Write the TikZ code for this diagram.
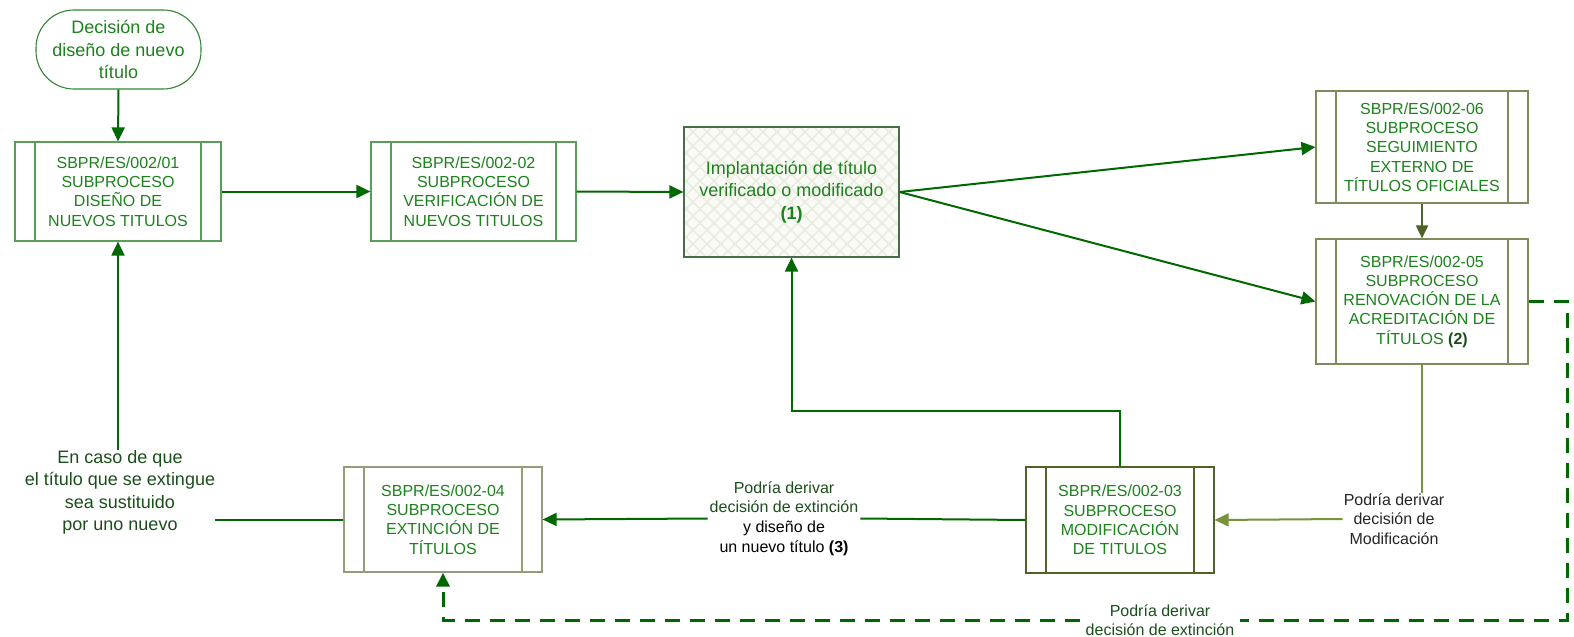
\documentclass[tikz,border=0pt]{standalone}
\usepackage{fontspec}
\setmainfont{Liberation Sans}
\usetikzlibrary{arrows.meta,calc}
\definecolor{arrgreen}{RGB}{0,104,0}
\definecolor{boxtext}{RGB}{28,130,28}
\definecolor{lblgreen}{RGB}{28,78,28}
\definecolor{olivedark}{RGB}{79,98,40}
\definecolor{olivelight}{RGB}{119,147,60}
\definecolor{bordergray}{RGB}{150,156,122}
\definecolor{borderolive}{RGB}{125,140,90}
\definecolor{bordergreen}{RGB}{88,158,88}
\definecolor{hatchfill}{RGB}{250,251,246}
\definecolor{hatchline}{RGB}{233,236,222}
\definecolor{hatchborder}{RGB}{70,110,70}
\newcommand{\boxfont}{\fontsize{16}{19.3}\selectfont}
\newcommand{\bigfont}{\fontsize{18}{22.4}\selectfont}
\newcommand{\lblfont}{\fontsize{16}{19.6}\selectfont}
\tikzset{
  subbox/.style={draw=#1, line width=1.2pt, rectangle, inner sep=0pt, align=center,
    text=boxtext, font=\boxfont,
    path picture={\draw[#1, line width=1.2pt]
      ([xshift=20pt]path picture bounding box.north west) -- ([xshift=20pt]path picture bounding box.south west)
      ([xshift=-20pt]path picture bounding box.north east) -- ([xshift=-20pt]path picture bounding box.south east);}},
  hatchbox/.style={draw=hatchborder, line width=1.2pt, fill=hatchfill, rectangle, inner sep=0pt,
    align=center, text=boxtext, font=\bigfont,
    path picture={\foreach \k in {0,...,30} {
      \draw[hatchline, line width=1.6pt] ([xshift=\k*14pt-150pt]path picture bounding box.north west) -- ++(150pt,-150pt);
      \draw[hatchline, line width=1.6pt] ([xshift=\k*14pt]path picture bounding box.north west) -- ++(-150pt,-150pt);}}},
  termbox/.style={draw=arrgreen!80, line width=1.1pt, rounded corners=38pt, inner sep=0pt,
    align=center, text=boxtext, font=\bigfont},
  lbl/.style={align=center, inner sep=0pt, fill=white},
  arr/.style={draw=arrgreen, line width=2pt, -{Triangle[length=14pt,width=13pt]}},
  plainline/.style={draw=arrgreen, line width=2pt},
  dashline/.style={draw=arrgreen, line width=3pt, dash pattern=on 15pt off 10pt},
}
\begin{document}
\begin{tikzpicture}[x=1pt,y=-1pt]
\useasboundingbox (0,0) rectangle (1574,637);
\fill[white] (0,0) rectangle (1574,637);

% nodes
\node[termbox, minimum width=165pt, minimum height=79pt] (term) at (118.5,49.5)
  {Decisión de\\diseño de nuevo\\título};
\node[subbox=bordergreen, minimum width=206pt, minimum height=99pt] (b1) at (118,191.5)
  {SBPR/ES/002/01\\SUBPROCESO\\DISEÑO DE\\NUEVOS TITULOS};
\node[subbox=bordergreen, minimum width=205pt, minimum height=99pt] (b2) at (473.5,191.5)
  {SBPR/ES/002-02\\SUBPROCESO\\VERIFICACIÓN DE\\NUEVOS TITULOS};
\node[hatchbox, minimum width=215pt, minimum height=130pt] (b3) at (791.5,192)
  {Implantación de título\\verificado o modificado\\\textbf{(1)}};
\node[subbox=borderolive, minimum width=212pt, minimum height=112pt] (b6) at (1422,147)
  {SBPR/ES/002-06\\SUBPROCESO\\SEGUIMIENTO\\EXTERNO DE\\TÍTULOS OFICIALES};
\node[subbox=borderolive, minimum width=212pt, minimum height=125pt] (b5) at (1422,301.5)
  {SBPR/ES/002-05\\SUBPROCESO\\RENOVACIÓN DE LA\\ACREDITACIÓN DE\\TÍTULOS \textbf{\color{lblgreen}(2)}};
\node[subbox=olivedark, minimum width=188pt, minimum height=106pt] (b03) at (1120,520)
  {SBPR/ES/002-03\\SUBPROCESO\\MODIFICACIÓN\\DE TITULOS};
\node[subbox=bordergray, minimum width=198pt, minimum height=105pt] (b04) at (443,519.5)
  {SBPR/ES/002-04\\SUBPROCESO\\EXTINCIÓN DE\\TÍTULOS};

% labels
\node[lbl, text=lblgreen, font=\bigfont] (caso) at (120,492.5)
  {En caso de que\\el título que se extingue\\sea sustituido\\por uno nuevo};
\node[lbl, font=\lblfont, inner xsep=2pt] (ext) at (784,518.5)
  {\textcolor{lblgreen}{Podría derivar}\\\textcolor{lblgreen}{decisión de extinción}\\y diseño de\\un nuevo título \textbf{(3)}};
\node[lbl, font=\lblfont, text=black!85, inner xsep=1pt] (mod) at (1394,519)
  {Podría derivar\\decisión de\\Modificación};
\node[lbl, font=\lblfont, text=lblgreen, inner xsep=6pt] (dl) at (1160,620)
  {Podría derivar\\decisión de extinción};

% coordinates for bends
\coordinate (c1) at (1120,411);
\coordinate (d1) at (1567,301.5);
\coordinate (d2) at (1567,620);
\coordinate (d3) at (443,620);

% connectors
\draw[arr] (term.south) -- (b1.north);
\draw[arr] (b1.east) -- (b2.west);
\draw[arr] (b2.east) -- (b3.west);
\draw[arr] (b3.east) -- (b6.west);
\draw[arr] (b3.east) -- (b5.west);
\draw[arr, draw=olivedark, -{Triangle[length=13pt,width=12pt]}] (b6.south) -- (b5.north);
\draw[plainline, draw=olivelight] (b5.south) -- (b5.south |- mod.north);
\draw[arr, draw=olivelight] (mod.west) -- (b03.east);
\draw[arr] (b03.north) -- (c1) -| (b3.south);
\draw[plainline] (b03.west) -- (ext.east);
\draw[arr] (ext.west) -- (b04.east);
\draw[plainline] (b04.west) -- (b04.west -| caso.east);
\draw[arr] (b1.south |- caso.north) -- (b1.south);
\draw[dashline] (b5.east) -- (d1) -- (d2) -- (dl.east);
\draw[dashline, -{Triangle[length=14pt,width=13pt]}] (dl.west) -- (d3) -- (b04.south);
\end{tikzpicture}
\end{document}
